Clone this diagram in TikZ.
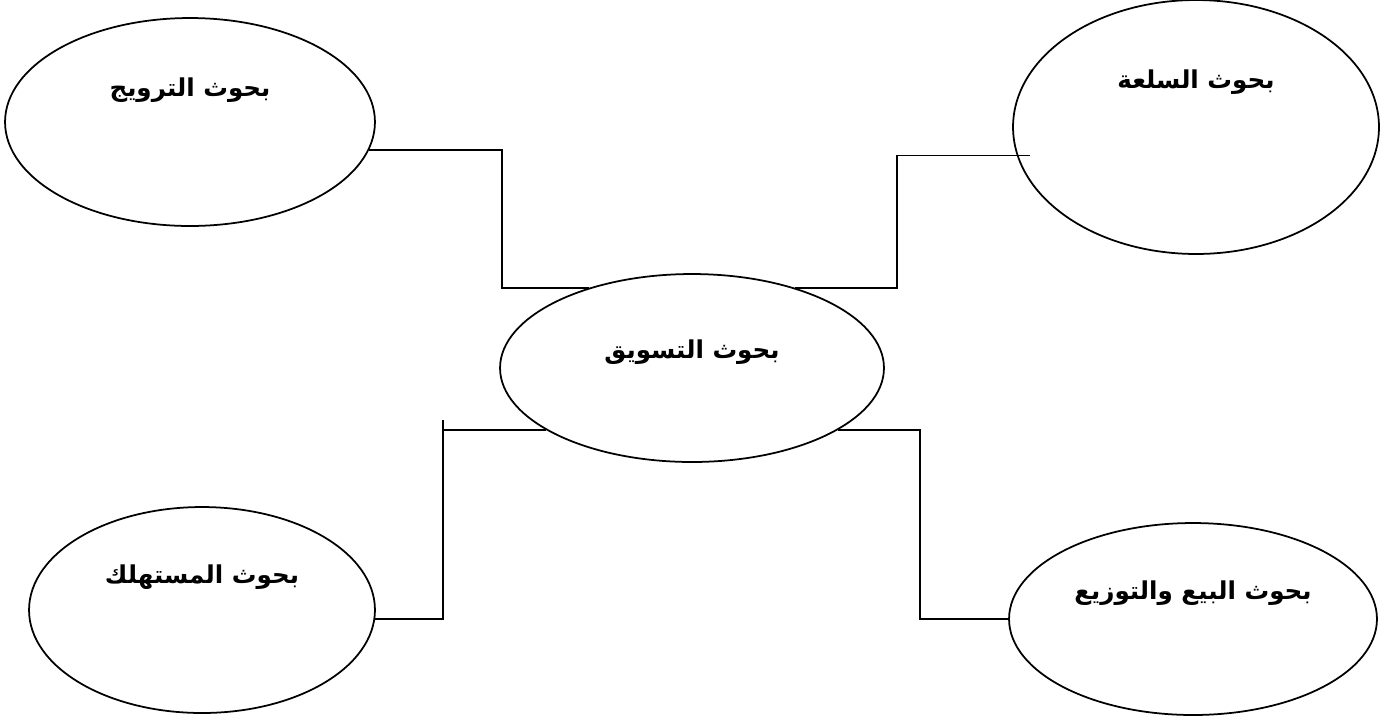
\documentclass[tikz,border=0pt]{standalone}
\usepackage{fontspec}
\newfontfamily\arabicfont[Script=Arabic]{DejaVu Sans}
\TeXXeTstate=1
\usetikzlibrary{shapes.geometric}

\begin{document}
\begin{tikzpicture}[
    x=0.02cm, y=-0.02cm,
    area/.style={ellipse, draw=black, line width=1pt, inner sep=0pt},
    caption/.style={font=\arabicfont\bfseries\fontsize{14}{17}\selectfont},
    link/.style={draw=black, line width=1pt}
]
    \useasboundingbox (0,0) rectangle (1381,718);

    % --- CENTRE ---
    \node[area, minimum width=7.68cm, minimum height=3.76cm,
          label={[caption, yshift=0.32cm]center:{\beginR بحوث التسويق\endR}}] (hub) at (692,368) {};

    % --- FOUR RESEARCH AREAS ---
    \node[area, minimum width=7.4cm, minimum height=4.16cm,
          label={[caption, yshift=0.64cm]center:{\beginR بحوث الترويج\endR}}] (promo) at (190,122) {};
    \node[area, minimum width=7.32cm, minimum height=5.08cm,
          label={[caption, yshift=0.9cm]center:{\beginR بحوث السلعة\endR}}] (goods) at (1196,127) {};
    \node[area, minimum width=6.92cm, minimum height=4.12cm,
          label={[caption, yshift=0.66cm]center:{\beginR بحوث المستهلك\endR}}] (consumer) at (202,610) {};
    \node[area, minimum width=7.36cm, minimum height=3.84cm,
          label={[caption, yshift=0.52cm]center:{\beginR بحوث البيع والتوزيع\endR}}] (sales) at (1193,619) {};

    % --- ELBOW CONNECTORS ---
    \coordinate (k1) at (502,220);
    \coordinate (k2) at (897,220);
    \coordinate (k3) at (443,420);
    \coordinate (k4) at (920,520);
    \draw[link] (promo.-9) -| (k1) |- (hub.142);
    \draw[link] (hub.38) -| (k2) |- ([xshift=0.26cm]goods.189);
    \draw[link] (hub.203) -| (k3) |- (consumer.-3);
    \draw[link] (hub.-23) -| (k4) |- (sales.west);
\end{tikzpicture}
\end{document}
